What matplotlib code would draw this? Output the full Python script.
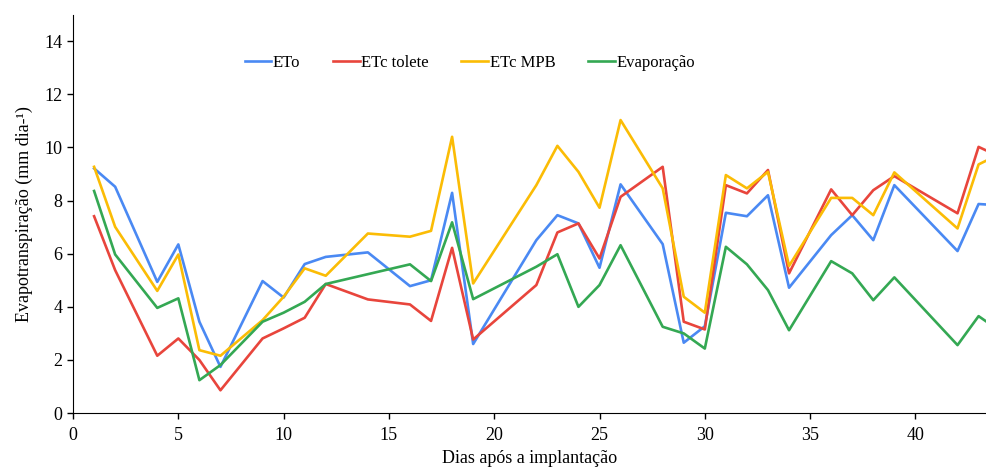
import matplotlib
matplotlib.use("Agg")
import matplotlib.pyplot as plt

plt.rcParams["font.family"] = ["Liberation Serif", "DejaVu Serif"]

dias = [1, 2, 4, 5, 6, 7, 9, 10, 11, 12, 14, 16, 17, 18, 19, 22, 23, 24, 25, 26,
        28, 29, 30, 31, 32, 33, 34, 36, 37, 38, 39, 42, 43, 44]
eto = [9.21, 8.52, 4.94, 6.35, 3.44, 1.74, 4.97, 4.35, 5.61, 5.88, 6.05, 4.78, 5.0,
       8.29, 2.6, 6.51, 7.45, 7.14, 5.47, 8.61, 6.36, 2.65, 3.27, 7.54, 7.41, 8.2,
       4.72, 6.7, 7.45, 6.51, 8.58, 6.1, 7.87, 7.82]
etc_tolete = [7.41, 5.38, 2.16, 2.81, 2.0, 0.86, 2.81, 3.19, 3.59, 4.86, 4.28, 4.09,
              3.47, 6.22, 2.77, 4.82, 6.8, 7.14, 5.82, 8.14, 9.27, 3.44, 3.15, 8.58,
              8.27, 9.15, 5.26, 8.42, 7.45, 8.39, 8.92, 7.52, 10.02, 9.65]
etc_mpb = [9.27, 7.01, 4.6, 5.97, 2.37, 2.16, 3.5, 4.38, 5.45, 5.17, 6.76, 6.64, 6.86,
           10.4, 4.88, 8.58, 10.06, 9.08, 7.73, 11.03, 8.46, 4.38, 3.78, 8.96, 8.46,
           9.08, 5.54, 8.1, 8.1, 7.45, 9.06, 6.95, 9.36, 9.75]
evaporacao = [8.36, 5.97, 3.96, 4.32, 1.24, 1.81, 3.44, 3.78, 4.19, 4.86, 5.23, 5.6,
              4.97, 7.18, 4.29, 5.51, 5.98, 4.0, 4.82, 6.32, 3.25, 3.0, 2.43, 6.26,
              5.6, 4.63, 3.12, 5.72, 5.26, 4.25, 5.11, 2.56, 3.65, 3.1]

series = [
    ("ETo", eto, "#4A89F3"),
    ("ETc tolete", etc_tolete, "#E8453C"),
    ("ETc MPB", etc_mpb, "#FBBC05"),
    ("Evaporação", evaporacao, "#34A853"),
]

fig = plt.figure(figsize=(9.87, 4.70), dpi=100)
ax = fig.add_axes([0.074, 0.121, 0.926, 0.848])

for label, values, color in series:
    ax.plot(dias, values, color=color, linewidth=1.9, label=label)

ax.set_xlim(0, 43.4)
ax.set_ylim(0, 15)
ax.set_xticks(range(0, 45, 5))
ax.set_yticks(range(0, 15, 2))
ax.spines["top"].set_visible(False)
ax.spines["right"].set_visible(False)
ax.tick_params(direction="out", length=4, width=1, labelsize=13, colors="black")
ax.tick_params(axis="x", pad=6)
ax.set_xlabel("Dias após a implantação", fontsize=13, labelpad=4)
ax.set_ylabel("Evapotranspiração (mm dia-¹)", fontsize=13, labelpad=8)

ax.legend(loc="center", bbox_to_anchor=(0.434, 0.879), ncol=4, frameon=False,
          fontsize=12, handlelength=1.6, handletextpad=0.1, columnspacing=1.95)

fig.savefig("out.png", dpi=100)
plt.close(fig)
